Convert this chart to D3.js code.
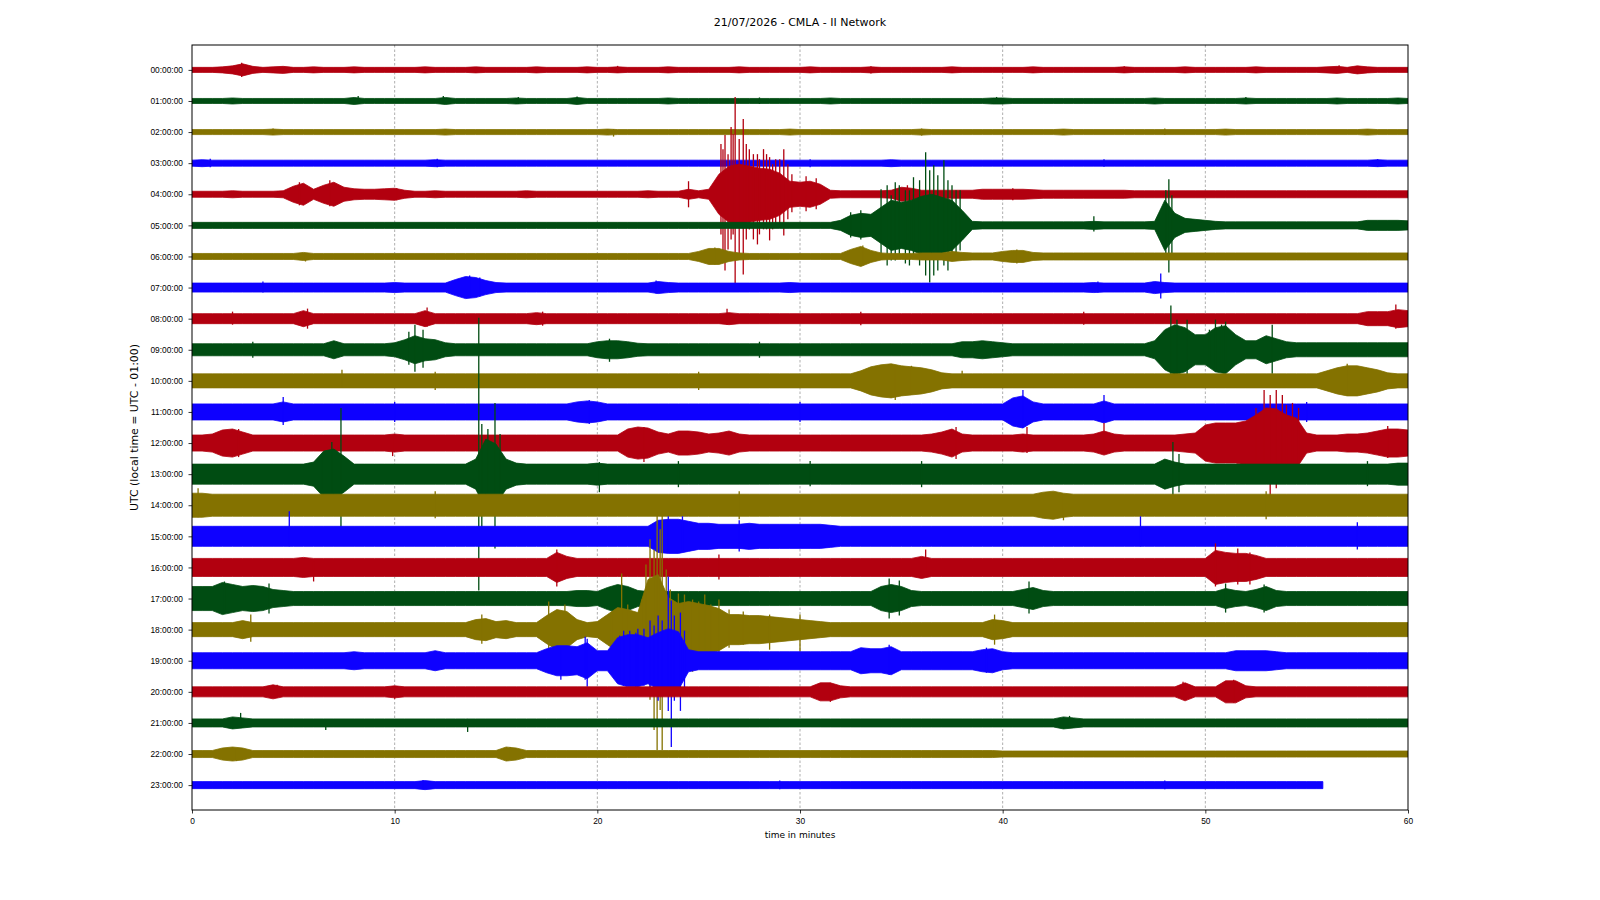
<!DOCTYPE html>
<html lang="en">
<head>
<meta charset="UTF-8">
<title>CMLA - II Network dayplot</title>
<script src="https://cdn.jsdelivr.net/npm/d3@7"></script>
<style>
  body { margin: 0; background: #fff; }
  svg { display: block; font-family: "DejaVu Sans", sans-serif; }
  .grid-line { stroke: #9a9a9a; stroke-width: 0.8; stroke-dasharray: 2.5,2; }
  .axis text { font-size: 8.4px; fill: #000; }
  .axis line { stroke: #000; stroke-width: 0.8; }
</style>
</head>
<body>
<div id="root"></div>
<script>
// one row per hour, 60 minutes each
const hourLabels = ["00:00:00","01:00:00","02:00:00","03:00:00","04:00:00","05:00:00",
  "06:00:00","07:00:00","08:00:00","09:00:00","10:00:00","11:00:00","12:00:00","13:00:00",
  "14:00:00","15:00:00","16:00:00","17:00:00","18:00:00","19:00:00","20:00:00","21:00:00",
  "22:00:00","23:00:00"]
const xTicks = [0, 10, 20, 30, 40, 50, 60]
const gridMinutes = [10, 20, 30, 40, 50]
const traceColors = ["#B2000F", "#004C12", "#847200", "#0E01FF"]
const traceEnd = [60,60,60,60,60,60,60,60,60,60,60,60,60,60,60,60,60,60,60,60,60,60,60,55.8]

// envelope (half amplitude, counts) of each hourly trace, one value every 0.5 min
const sampleStep = 0.5
const trace00 = [5,5,5,6,8,12,7,5,6,7, 5,5,6,5,5,5,6,5,5,5, 5,5,5,6,5,5,5,5,6,5, 5,5,5,5,6,5,5,5,5,6, 5,5,6,5,5,5,5,6,5,5, 5,5,5,5,6,5,5,5,5,5, 5,6,5,5,5,5,5,6,5,5, 5,5,5,5,5,6,5,5,5,5, 5,5,5,6,5,5,5,5,5,5, 5,5,6,5,5,5,5,5,6,5, 5,5,5,5,5,6,5,5,5,5, 5,5,6,7,5,8,6,5,5,5, 5]
const trace01 = [5,5,5,5,6,5,5,5,5,5, 5,5,5,5,5,5,7,5,5,5, 5,5,5,5,5,7,5,5,5,5, 5,5,6,5,5,5,5,5,7,5, 5,5,5,5,5,5,5,6,5,5, 5,5,5,5,5,5,5,5,5,5, 5,5,5,6,5,5,5,5,5,5, 5,5,5,5,5,5,5,5,5,6, 6,5,5,5,5,5,5,5,5,5, 5,5,5,5,5,6,5,5,5,5, 5,5,5,5,6,5,5,5,5,5, 5,5,5,6,5,5,5,5,5,6, 5]
const trace02 = [5,5,5,5,5,5,5,5,6,5, 5,5,5,5,5,5,5,5,5,5, 5,5,5,5,5,6,5,5,5,5, 5,5,5,5,5,5,5,5,5,5, 5,6,5,5,5,5,5,5,5,5, 5,5,5,5,5,5,5,5,5,6, 5,5,5,5,5,5,5,5,5,5, 5,5,6,5,5,5,5,5,5,5, 5,5,5,5,5,5,6,5,5,5, 5,5,5,5,5,5,5,5,5,5, 5,5,6,5,5,5,5,5,5,5, 5,5,5,5,5,5,6,5,5,5, 5]
const trace03 = [6,7,6,6,6,6,6,6,6,6, 6,6,6,6,6,6,6,6,6,6, 6,6,6,6,7,6,6,6,6,6, 6,6,6,6,6,6,6,6,6,6, 6,6,6,6,6,6,6,6,6,6, 6,6,6,6,6,6,6,6,6,6, 6,6,6,6,6,6,6,6,6,7, 6,6,6,6,6,6,6,6,6,6, 6,6,6,6,6,6,6,6,6,6, 6,6,6,6,6,6,6,6,6,6, 6,6,6,6,6,6,6,6,6,6, 6,6,6,6,6,6,6,7,6,6, 6]
const trace04 = [6,6,6,6,7,6,6,6,6,7, 16,22,10,18,24,14,11,10,10,11, 12,8,6,6,7,6,6,6,6,6, 6,6,6,7,6,6,6,6,6,6, 6,6,6,6,6,7,6,6,6,10, 7,10,40,56,60,56,52,50,42,26, 24,26,20,8,7,7,7,7,7,8, 14,12,8,8,8,8,8,8,10,10, 10,10,10,9,8,8,8,8,8,8, 8,8,8,7,7,7,7,7,7,7, 7,7,7,7,7,7,7,7,7,7, 7,7,7,7,7,7,7,7,7,7, 7]
const trace05 = [6,6,6,6,6,6,6,6,6,6, 6,6,6,6,6,6,6,6,6,6, 6,6,6,6,6,6,6,6,6,6, 6,6,6,6,6,6,6,6,6,6, 6,6,6,6,6,6,6,6,6,6, 6,6,6,6,6,6,6,6,6,6, 6,6,6,6,10,20,24,22,36,50, 46,50,58,62,56,50,30,8,7,7, 7,7,7,7,7,7,7,7,7,8, 7,7,7,7,7,8,50,24,14,12, 10,8,7,7,7,7,7,7,7,7, 7,7,7,7,7,7,10,10,10,10, 9]
const trace06 = [6,6,6,6,6,6,6,6,6,6, 6,8,6,6,6,6,6,6,6,6, 6,6,6,6,6,6,6,6,6,6, 6,6,6,6,6,6,6,6,6,6, 6,6,6,6,6,6,6,6,6,6, 10,16,16,10,7,6,6,6,6,6, 6,6,6,6,6,14,20,12,7,6, 6,6,7,7,7,10,8,7,7,7, 10,12,12,8,7,7,7,7,7,7, 7,7,7,7,7,7,7,7,7,7, 7,7,7,7,7,7,7,7,7,7, 7,7,7,7,7,7,7,7,7,7, 7]
const trace07 = [9,9,9,9,9,9,9,9,9,9, 9,9,9,9,9,9,9,9,9,9, 10,9,9,9,9,9,16,22,20,14, 10,9,9,9,9,9,9,9,9,9, 9,9,9,9,9,9,12,10,9,9, 9,9,9,9,9,9,9,9,9,10, 9,9,9,9,9,9,9,9,9,9, 9,9,9,9,9,9,9,9,9,9, 9,9,9,9,9,9,9,9,9,10, 9,9,9,9,9,12,10,9,9,9, 9,9,9,9,9,9,9,9,9,9, 9,9,9,9,9,9,9,9,9,9, 9]
const trace08 = [10,10,10,10,10,10,10,10,10,10, 10,16,10,10,10,10,10,10,10,10, 10,10,10,16,10,10,10,10,10,10, 10,10,10,10,12,10,10,10,10,10, 10,10,10,10,10,10,10,10,10,10, 10,10,10,12,10,10,10,10,10,10, 10,10,10,10,10,10,10,10,10,10, 10,10,10,10,10,10,10,10,10,10, 10,10,10,10,10,10,10,10,10,10, 10,10,10,10,10,10,10,10,10,10, 10,10,10,10,10,10,10,10,10,10, 10,10,10,10,10,10,14,14,14,18, 16]
const trace09 = [12,12,12,12,12,12,12,12,12,12, 12,12,12,12,18,12,12,12,12,12, 14,20,28,22,20,14,12,12,12,12, 12,12,12,12,12,12,12,12,12,12, 16,18,18,16,13,12,12,12,12,12, 12,12,12,12,12,12,12,12,12,12, 12,12,12,12,12,12,12,12,12,12, 12,12,12,12,12,12,16,16,18,16, 14,12,12,12,12,12,12,12,12,12, 12,12,12,12,12,18,40,50,44,30, 30,44,48,30,18,18,28,22,16,14, 14,14,14,14,14,14,14,14,14,14, 14]
const trace10 = [14,14,14,14,14,14,14,14,14,14, 14,14,14,14,14,14,14,14,14,14, 14,14,14,14,14,14,14,14,14,14, 14,14,14,14,14,14,14,14,14,14, 14,14,14,14,14,14,14,14,14,14, 14,14,14,14,14,14,14,14,14,14, 14,14,14,14,14,14,20,28,32,34, 30,28,26,22,16,14,14,14,14,14, 14,14,14,14,14,14,14,14,14,14, 14,14,14,14,14,14,14,14,14,14, 14,14,14,14,14,14,14,14,14,14, 14,14,20,26,30,30,26,22,16,14, 14]
const trace11 = [16,16,16,16,16,16,16,16,16,20, 16,16,16,16,16,16,16,16,16,16, 16,16,16,16,16,16,16,16,16,16, 16,16,16,16,16,16,16,16,20,22, 20,16,16,16,16,16,16,16,16,16, 16,16,16,16,16,16,16,16,16,16, 16,16,16,16,16,16,16,16,16,16, 16,16,16,16,16,16,16,16,16,16, 16,28,32,20,16,16,16,16,16,16, 22,16,16,16,16,16,16,16,16,16, 16,16,16,16,16,16,16,16,16,16, 16,16,16,16,16,16,16,16,16,16, 16]
const trace12 = [16,16,18,26,28,22,16,16,16,16, 16,16,16,16,16,16,16,16,16,16, 18,16,16,16,16,16,16,16,16,16, 16,16,16,16,16,16,16,16,16,16, 16,16,16,28,32,30,22,18,24,24, 22,18,20,24,18,16,16,16,16,16, 16,16,16,16,16,16,16,16,16,16, 16,16,16,18,22,28,18,16,16,16, 16,16,18,16,16,16,16,16,16,18, 24,18,16,16,16,16,16,16,18,20, 36,40,40,40,44,56,70,68,56,50, 20,16,16,16,18,18,20,24,28,28, 26]
const trace13 = [20,20,20,20,20,20,20,20,20,20, 20,20,24,46,50,36,20,20,20,20, 20,20,20,20,20,20,20,20,30,70, 60,30,22,20,20,20,20,20,20,20, 22,20,20,20,20,20,20,20,20,20, 20,20,20,20,20,20,20,20,20,20, 20,20,20,20,20,20,20,20,20,20, 20,20,20,20,20,20,20,20,20,20, 20,20,20,20,20,20,20,20,20,20, 20,20,20,20,20,20,30,24,20,20, 20,20,20,20,20,20,20,20,20,20, 20,20,20,20,20,20,20,20,20,22, 22]
const trace14 = [24,24,22,22,22,22,22,22,22,22, 22,22,22,22,22,22,22,22,22,22, 22,22,22,22,22,22,22,22,22,22, 22,22,22,22,22,22,22,22,22,22, 22,22,22,22,22,22,22,22,22,22, 22,22,22,22,22,22,22,22,22,22, 22,22,22,22,22,22,22,22,22,22, 22,22,22,22,22,22,22,22,22,22, 22,22,22,22,26,28,24,22,22,22, 22,22,22,22,22,22,22,22,22,22, 22,22,22,22,22,22,22,22,22,22, 22,22,22,22,22,22,22,22,22,22, 22]
const trace15 = [20,20,20,20,20,20,20,20,20,20, 20,20,20,20,20,20,20,20,20,20, 20,20,20,20,20,20,20,20,20,20, 20,20,20,20,20,20,20,20,20,20, 20,20,20,20,20,20,32,34,34,30, 26,26,24,24,24,26,24,24,24,24, 24,24,24,22,20,20,20,20,20,20, 20,20,20,20,20,20,20,20,20,20, 20,20,20,20,20,20,20,20,20,20, 20,20,20,20,20,20,20,20,20,20, 20,20,20,20,20,20,20,20,20,20, 20,20,20,20,20,20,20,20,20,20, 20]
const trace16 = [18,18,18,18,18,18,18,18,18,18, 18,20,18,18,18,18,18,18,18,18, 18,18,18,18,18,18,18,18,18,18, 18,18,18,18,18,18,30,22,18,18, 18,18,18,18,18,18,18,18,18,18, 18,18,18,18,18,18,18,18,18,18, 18,18,18,18,18,18,18,18,18,18, 18,18,22,18,18,18,18,18,18,18, 18,18,18,18,18,18,18,18,18,18, 18,18,18,18,18,18,18,18,18,18, 18,34,30,28,28,24,18,18,18,18, 18,18,18,18,18,18,18,18,18,18, 18]
const trace17 = [24,24,24,32,28,24,26,24,18,16, 14,14,14,14,14,14,14,14,14,14, 14,14,14,14,14,14,14,14,14,14, 14,14,14,14,14,14,14,14,16,16, 14,22,28,24,16,14,14,14,14,14, 14,14,14,14,14,14,14,14,14,14, 14,14,14,14,14,14,14,14,24,28, 24,16,14,14,14,14,14,14,14,14, 14,14,18,22,16,14,14,14,14,14, 14,14,14,14,14,14,14,14,14,14, 14,14,20,16,14,18,24,16,14,14, 14,14,14,14,14,14,14,14,14,14, 14]
const trace18 = [14,14,14,14,14,18,14,14,14,14, 14,14,14,14,14,14,14,14,14,14, 14,14,14,14,14,14,14,14,20,22, 16,18,14,14,14,28,40,36,20,14, 16,30,44,40,34,100,110,64,52,56, 52,48,42,30,30,28,28,26,24,22, 20,18,16,14,14,14,14,14,14,14, 14,14,14,14,14,14,14,14,14,20, 18,14,14,14,14,14,14,14,14,14, 14,14,14,14,14,14,14,14,14,14, 14,14,14,14,14,14,14,14,14,14, 14,14,14,14,14,14,14,14,14,14, 14]
const trace19 = [16,16,16,16,16,16,16,16,16,16, 16,16,16,16,16,16,18,16,16,16, 16,16,16,16,20,16,16,16,16,16, 16,16,16,16,16,24,30,30,28,36, 20,20,46,52,52,46,56,64,58,22, 18,18,18,18,18,18,18,18,18,18, 18,18,18,18,18,18,26,24,24,28, 18,18,18,18,18,18,18,18,22,24, 18,16,16,16,16,16,16,16,16,16, 16,16,16,16,16,16,16,16,16,16, 16,16,16,20,20,20,20,18,16,16, 16,16,16,16,16,16,16,16,16,16, 16]
const trace20 = [10,10,10,10,10,10,10,10,14,10, 10,10,10,10,10,10,10,10,10,10, 12,10,10,10,10,10,10,10,10,10, 10,10,10,10,10,10,10,10,10,10, 10,10,10,10,10,10,10,10,10,10, 10,10,10,10,10,10,10,10,10,10, 10,10,18,18,12,10,10,10,10,10, 10,10,10,10,10,10,10,10,10,10, 10,10,10,10,10,10,10,10,10,10, 10,10,10,10,10,10,10,10,18,10, 10,10,22,22,12,10,10,10,10,10, 10,10,10,10,10,10,10,10,10,10, 10]
const trace21 = [8,8,8,8,12,10,8,8,8,8, 8,8,8,8,8,8,8,8,8,8, 8,8,8,8,8,8,8,8,8,8, 8,8,8,8,8,8,8,8,8,8, 8,8,8,8,8,8,8,8,8,8, 8,8,8,8,8,8,8,8,8,8, 8,8,8,8,8,8,8,8,8,8, 8,8,8,8,8,8,8,8,8,8, 8,8,8,8,8,8,12,10,8,8, 8,8,8,8,8,8,8,8,8,8, 8,8,8,8,8,8,8,8,8,8, 8,8,8,8,8,8,8,8,8,8, 8]
const trace22 = [7,7,7,12,14,12,7,7,7,7, 7,7,7,7,7,7,7,7,7,7, 7,7,7,7,7,7,7,7,7,7, 7,14,12,7,7,7,7,7,7,7, 7,7,7,7,7,7,7,7,7,7, 7,7,7,7,7,7,7,7,7,7, 7,7,7,7,7,7,7,7,7,7, 7,7,7,7,7,7,7,7,7,7, 6,6,6,6,6,6,6,6,6,6, 6,6,6,6,6,6,6,6,6,6, 6,6,6,6,6,6,6,6,6,6, 6,6,6,6,6,6,6,6,6,6, 6]
const trace23 = [7,7,7,7,7,7,7,7,7,7, 7,7,7,7,7,7,7,7,7,7, 7,7,7,9,7,7,7,7,7,7, 7,7,7,7,7,7,7,7,7,7, 7,7,7,7,7,7,7,7,7,7, 7,7,7,7,7,7,7,7,7,7, 7,7,7,7,7,7,7,7,7,7, 7,7,7,7,7,7,7,7,7,7, 7,7,7,7,7,7,7,7,7,7, 7,7,7,7,7,7,7,7,7,7, 7,7,7,7,7,7,7,7,7,7, 7,7]

const envelopes = [trace00, trace01, trace02, trace03, trace04, trace05, trace06, trace07,
  trace08, trace09, trace10, trace11, trace12, trace13, trace14, trace15,
  trace16, trace17, trace18, trace19, trace20, trace21, trace22, trace23]

// single peaks sticking out of the envelope: [hour, minute, up, down]
const spikes = [
  [0,2.45,14,14],[0,56.6,9,6],[0,21.0,8,6],[0,33.5,7,7],[0,46.0,7,6],
  [1,8.2,10,5],[1,12.4,10,5],[1,16.1,8,6],[1,19.0,9,5],[1,39.7,8,6],[1,28.0,7,6],[1,52.0,8,6],
  [2,20.8,6,9],[2,4.0,7,6],[2,36.0,7,7],[2,48.0,7,6],
  [3,0.9,9,8],[3,12.1,9,8],[3,30.5,8,8],[3,45.0,8,7],[3,58.5,8,7],
  [4,5.3,24,22],[4,6.8,28,24],[4,10.1,12,12],[4,24.5,26,26],[4,26.1,100,80],[4,26.2,90,120],[4,26.3,118,152],
  [4,26.45,80,110],[4,26.6,134,90],[4,26.7,120,80],[4,26.8,194,190],[4,27.0,110,120],[4,27.2,150,160],
  [4,27.35,100,90],[4,27.5,90,70],[4,27.7,80,90],[4,27.9,80,100],[4,28.0,70,80],[4,28.2,90,70],
  [4,28.35,80,70],[4,28.5,74,92],[4,28.65,60,70],[4,28.8,70,60],[4,29.0,70,60],[4,29.2,90,82],
  [4,29.4,60,50],[4,29.6,40,36],[4,30.3,36,34],[4,30.8,32,30],[4,35.3,18,10],[4,40.5,12,12],
  [5,34.0,72,60],[5,34.3,80,80],[5,34.5,60,70],[5,34.7,86,70],[5,34.9,80,60],[5,35.2,70,76],
  [5,35.4,70,80],[5,35.6,96,60],[5,35.9,90,80],[5,36.2,146,100],[5,36.4,110,114],[5,36.6,120,100],
  [5,36.8,100,90],[5,37.1,130,80],[5,37.3,90,90],[5,37.5,80,70],[5,37.7,70,60],[5,37.9,70,50],
  [5,33.0,30,28],[5,32.5,26,24],[5,44.5,18,12],[5,48.05,70,60],[5,48.2,92,94],[5,48.35,60,56],
  [6,5.6,4,10],[6,33.1,22,18],[6,25.8,18,16],[6,40.7,14,14],
  [7,13.7,24,20],[7,44.7,12,10],[7,47.8,28,22],[7,14.2,20,18],[7,3.5,12,10],[7,22.9,14,12],
  [8,5.7,20,20],[8,11.6,22,16],[8,26.4,20,12],[8,59.4,28,20],[8,2.0,14,12],[8,17.3,14,14],[8,33.0,14,13],[8,44.0,14,12],
  [9,11.0,50,44],[9,10.7,36,30],[9,11.4,40,36],[9,48.3,88,50],[9,48.6,60,46],[9,49.1,60,50],[9,50.2,40,30],
  [9,50.5,60,44],[9,50.8,50,44],[9,51.0,56,40],[9,53.3,50,48],[9,20.6,22,24],[9,3.0,16,16],[9,28.0,16,16],
  [10,7.4,22,14],[10,34.7,24,38],[10,35.5,30,24],[10,38.0,20,14],[10,57.0,34,30],[10,12.0,18,18],[10,25.0,18,18],
  [11,4.5,30,26],[11,19.6,24,24],[11,41.0,44,32],[11,45.0,34,20],[11,10.0,20,20],[11,30.0,20,20],[11,55.0,20,20],
  [12,2.3,28,28],[12,9.9,16,26],[12,22.3,32,38],[12,37.7,32,32],[12,41.2,32,20],[12,45.0,40,22],
  [12,52.5,70,60],[12,52.9,106,80],[12,53.2,96,110],[12,53.5,106,90],[12,53.8,96,70],[12,54.0,76,60],
  [12,54.3,80,60],[12,54.6,70,60],[12,59.0,34,30],
  [13,6.4,40,30],[13,6.9,64,50],[13,7.35,132,112],[13,14.15,312,232],[13,14.3,100,120],
  [13,14.6,90,80],[13,14.95,142,148],[13,15.2,80,70],[13,20.1,24,36],[13,48.4,64,48],[13,48.7,40,36],
  [13,24.0,26,26],[13,30.5,26,24],[13,36.0,26,26],[13,58.0,26,24],
  [14,0.3,34,24],[14,43.0,22,30],[14,12.0,28,26],[14,27.0,28,28],[14,53.0,28,28],
  [15,4.8,50,20],[15,23.5,40,30],[15,24.2,40,28],[15,46.8,40,20],[15,27.0,32,30],[15,57.5,28,26],
  [16,6.0,12,28],[16,18.0,36,38],[16,36.2,36,18],[16,50.5,48,38],[16,51.6,38,34],[16,52.2,30,34],[16,26.0,26,24],
  [17,1.6,34,30],[17,3.8,30,30],[17,21.2,30,20],[17,34.4,40,40],[17,34.9,36,34],[17,41.3,34,30],
  [17,51.0,30,28],[17,52.9,28,28],
  [18,2.9,30,24],[18,14.3,30,28],[18,17.6,56,44],[18,18.4,50,44],[18,20.7,36,40],[18,21.2,112,40],
  [18,21.5,50,40],[18,22.2,60,50],[18,22.4,130,90],[18,22.6,180,140],[18,22.8,160,200],[18,22.95,236,240],
  [18,23.1,200,160],[18,23.2,236,240],[18,23.4,120,120],[18,23.6,80,90],[18,24.0,72,50],[18,24.3,70,60],
  [18,24.7,60,84],[18,25.0,56,44],[18,25.3,70,50],[18,25.6,50,40],[18,26.0,60,48],[18,26.5,40,36],
  [18,27.2,36,30],[18,28.5,30,40],[18,30.0,30,44],[18,39.6,30,30],
  [19,18.2,24,38],[19,19.4,48,38],[19,19.5,44,52],[19,21.1,50,40],[19,21.3,60,50],[19,21.6,60,50],
  [19,21.9,56,60],[19,22.0,64,56],[19,22.3,64,50],[19,22.6,80,70],[19,22.8,70,60],[19,23.0,90,80],
  [19,23.2,80,70],[19,23.5,168,100],[19,23.65,120,172],[19,23.8,90,80],[19,24.1,96,100],[19,24.3,60,60],
  [19,34.4,32,28],[19,39.2,26,24],
  [20,4.2,14,12],[20,10.0,10,14],[20,31.5,18,20],[20,48.9,20,12],[20,51.4,24,22],
  [21,2.4,20,10],[21,6.6,8,14],[21,13.6,8,18],[21,43.3,14,10],
  [22,2.2,12,14],[22,15.7,14,12],
  [23,11.4,10,8],[23,29.0,9,8],[23,48.0,9,8]
]

let width = 1600, height = 900
let plotLeft = 192, plotRight = 1408, plotTop = 45, plotBottom = 810

let svg = d3.select("#root").append("svg").attr("width", width).attr("height", height)

let x = d3.scaleLinear().domain([0, 60]).range([plotLeft, plotRight])
let y = d3.scaleLinear().domain([-0.8, 23.8]).range([plotTop, plotBottom])
// 62 counts fill the gap between two rows
let amp = d3.scaleLinear().domain([0, 62]).range([0, y(1) - y(0)])

svg.append("clipPath").attr("id", "plot-clip")
  .append("rect").attr("x", plotLeft).attr("y", plotTop)
  .attr("width", plotRight - plotLeft).attr("height", plotBottom - plotTop)

// dashed minute grid
svg.append("g").selectAll("line").data(gridMinutes).join("line")
  .classed("grid-line", true)
  .attr("x1", d => x(d)).attr("x2", d => x(d))
  .attr("y1", plotTop).attr("y2", plotBottom)

let area = d3.area()
  .x(d => x(d.m))
  .y0(d => y(d.h) + amp(d.v))
  .y1(d => y(d.h) - amp(d.v))

let traces = svg.append("g").attr("clip-path", "url(#plot-clip)")

envelopes.forEach((env, h) => {
  let color = traceColors[h % traceColors.length]
  let pts = env.map((v, i) => ({ h: h, m: i * sampleStep, v: v })).filter(p => p.m <= traceEnd[h])
  let last = pts[pts.length - 1]
  if (last.m < traceEnd[h]) pts.push({ h: h, m: traceEnd[h], v: last.v })

  let g = traces.append("g")

  g.append("path").datum(pts)
    .attr("d", area)
    .attr("fill", color)
    .attr("stroke", color)
    .attr("stroke-width", 0.8)
    .attr("stroke-linejoin", "round")

  g.append("g").selectAll("line")
    .data(spikes.filter(s => s[0] === h && s[1] <= traceEnd[h]))
    .join("line")
    .attr("x1", s => x(s[1])).attr("x2", s => x(s[1]))
    .attr("y1", s => y(h) - amp(s[2]))
    .attr("y2", s => y(h) + amp(s[3]))
    .attr("stroke", color)
    .attr("stroke-width", 1.3)
})

// axes
svg.append("g").attr("class", "axis")
  .attr("transform", "translate(" + plotLeft + ",0)")
  .call(d3.axisLeft(y).tickValues(d3.range(hourLabels.length)).tickFormat(h => hourLabels[h])
    .tickSize(3.5).tickPadding(5.5).tickSizeOuter(0))
  .call(g => g.select(".domain").remove())

svg.append("g").attr("class", "axis")
  .attr("transform", "translate(0," + plotBottom + ")")
  .call(d3.axisBottom(x).tickValues(xTicks).tickFormat(d3.format("d"))
    .tickSize(3.5).tickPadding(5).tickSizeOuter(0))
  .call(g => g.select(".domain").remove())

// frame
svg.append("rect")
  .attr("x", plotLeft).attr("y", plotTop)
  .attr("width", plotRight - plotLeft).attr("height", plotBottom - plotTop)
  .attr("fill", "none").attr("stroke", "#000").attr("stroke-width", 1)

svg.append("text")
  .attr("x", (plotLeft + plotRight) / 2).attr("y", 25.5)
  .attr("text-anchor", "middle").style("font-size", "11px")
  .text("21/07/2026 - CMLA - II Network")

svg.append("text")
  .attr("x", (plotLeft + plotRight) / 2).attr("y", 838)
  .attr("text-anchor", "middle").style("font-size", "9px")
  .text("time in minutes")

svg.append("text")
  .attr("transform", "translate(138," + (plotTop + plotBottom) / 2 + ") rotate(-90)")
  .attr("text-anchor", "middle").style("font-size", "10.9px")
  .text("UTC (local time = UTC - 01:00)")
</script>
</body>
</html>
